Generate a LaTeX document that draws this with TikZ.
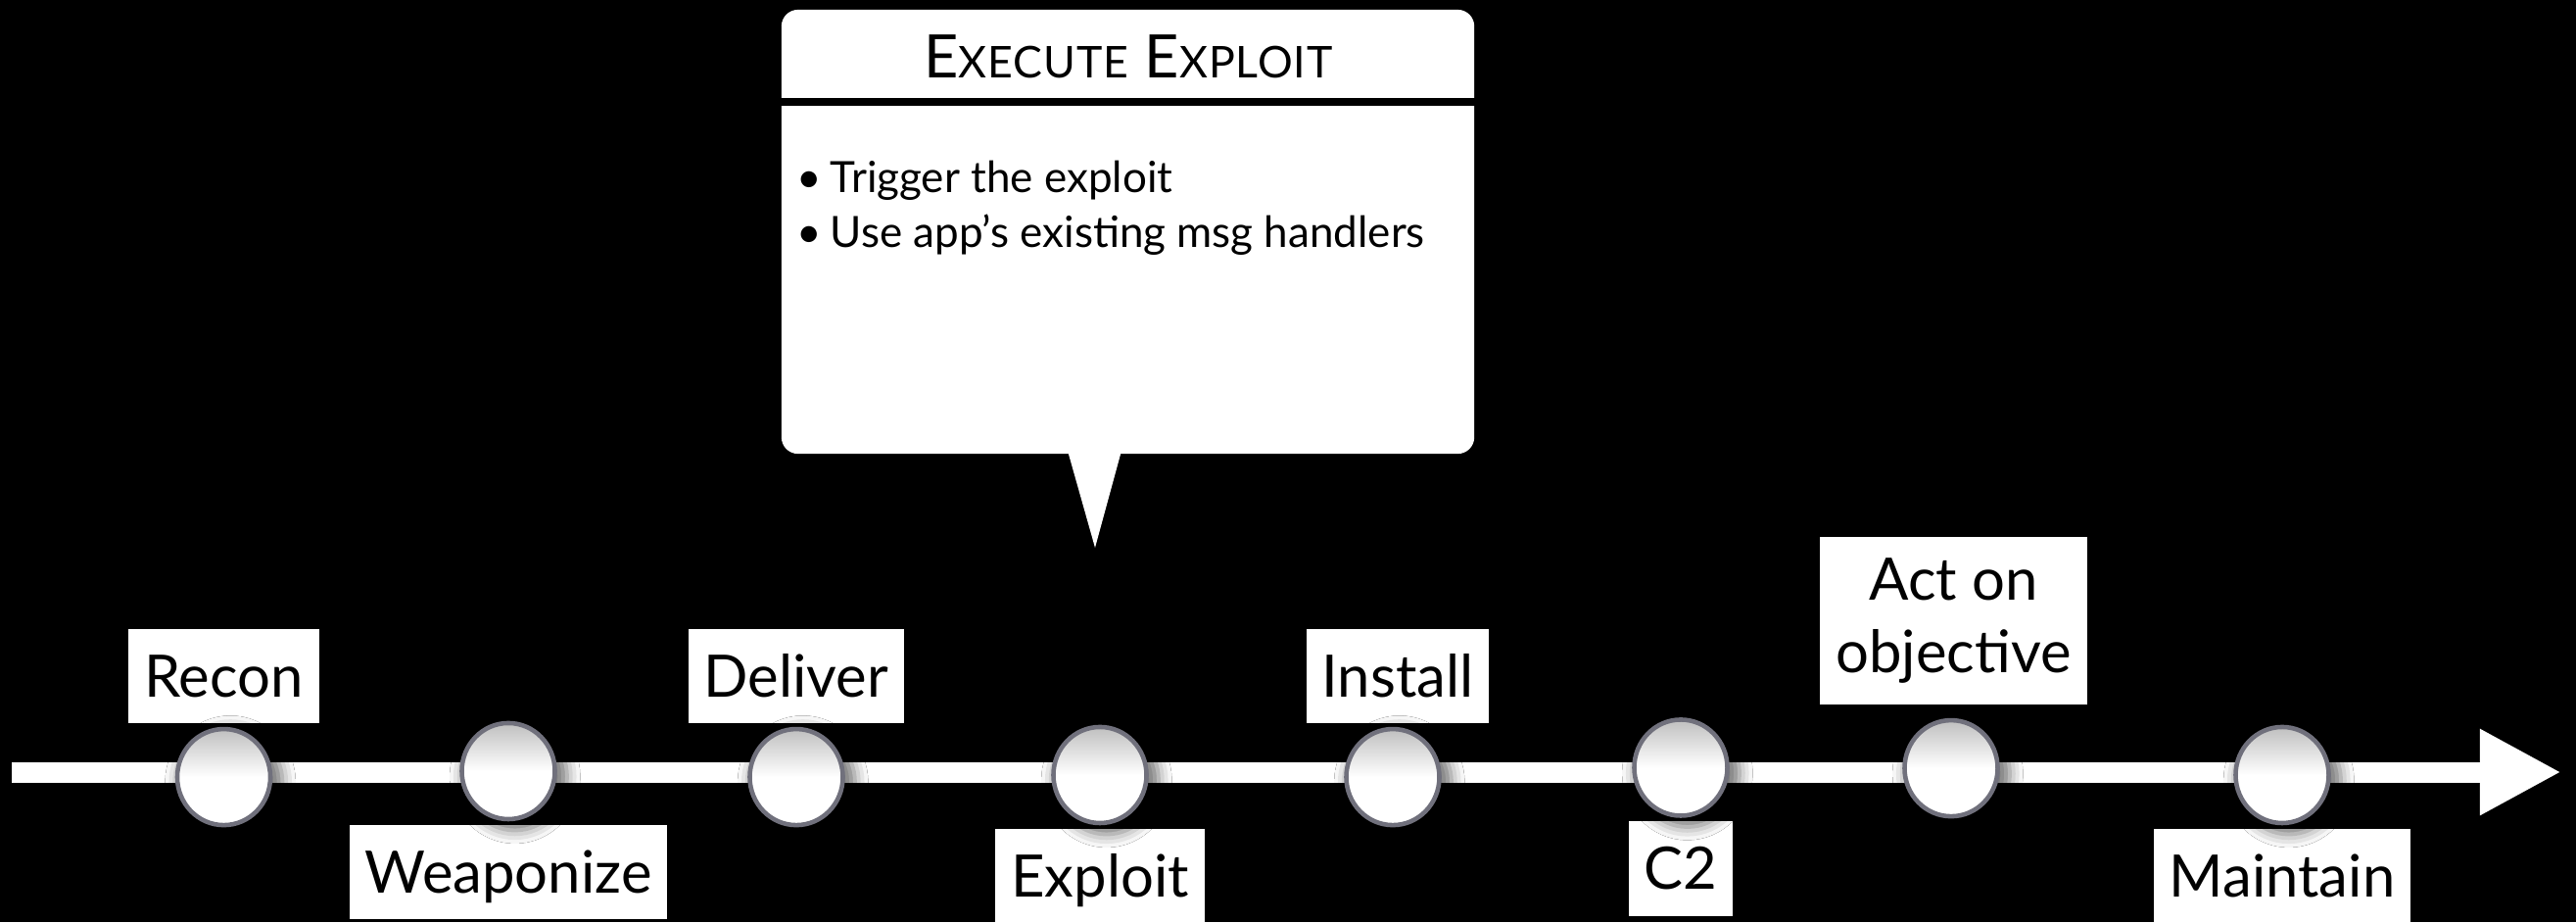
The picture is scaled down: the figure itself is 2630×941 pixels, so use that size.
\documentclass[tikz,border=0pt]{standalone}
\usepackage{fontspec}
\setmainfont{Lato}
\usepackage{xcolor}
\usepackage{tikz}
\usetikzlibrary{positioning}
\usetikzlibrary{shapes.geometric}
\usetikzlibrary{arrows.meta}
\usetikzlibrary{shadows.blur}
\definecolor{ringgray}{RGB}{112,112,124}
\newcommand{\capsc}[2]{{\fontsize{17.4}{20}\selectfont #1}{\fontsize{12.7}{15}\selectfont #2}}

\begin{document}
\begin{tikzpicture}[x=0.01cm,y=-0.01cm,
    stage/.style={ellipse,draw=ringgray,line width=1.3pt,minimum width=0.95cm,minimum height=0.98cm,inner sep=0pt,
      top color=black!25,bottom color=white,middle color=white,
      blur shadow={shadow xshift=0.06cm,shadow yshift=-0.05cm,shadow scale=1.12,shadow blur radius=0.12cm,shadow opacity=55}},
    tag/.style={fill=white,text=black,font=\fontsize{17}{21.3}\selectfont,inner xsep=0.16cm,inner ysep=0pt,
      minimum height=0.96cm,text height=12.2pt,text depth=0pt},
    item/.style={anchor=base west,inner sep=0pt,font=\fontsize{12.5}{15}\selectfont}]
    \fill[black] (0,0) rectangle (2630,941);
    \useasboundingbox (0,0) rectangle (2630,941);
    % time line
    \coordinate (tail) at (12,788);
    \coordinate (head) at (2615,788);
    \draw[white,line width=0.21cm,-{Triangle[length=0.83cm,width=0.82cm]}] (tail) -- (head);
    % phase names
    \node[tag] (recontag) at (228.5,690) {Recon};
    \node[tag] (weapontag) at (519,890) {Weaponize};
    \node[tag] (delivertag) at (813,690) {Deliver};
    \node[tag] (exploittag) at (1123,894) {Exploit};
    \node[tag] (installtag) at (1427,690) {Install};
    \node[tag] (ctwotag) at (1716,886.5) {C2};
    \node[tag,align=center,text height=,text depth=,minimum height=1.71cm] (acttag) at (1994.5,633.5) {Act on\\objective};
    \node[tag] (maintaintag) at (2330,894) {Maintain};
    % phase markers
    \node[stage,below=0.03cm of recontag] (recon) {};
    \node[stage,above=0.03cm of weapontag] (weapon) {};
    \node[stage,below=0.03cm of delivertag] (deliver) {};
    \node[stage,above=0.03cm of exploittag] (exploit) {};
    \node[stage,below=0.03cm of installtag,xshift=-0.05cm] (install) {};
    \node[stage,above=0.03cm of ctwotag] (ctwo) {};
    \node[stage,below=0.13cm of acttag,xshift=-0.025cm] (act) {};
    \node[stage,above=0.03cm of maintaintag] (maintain) {};
    % call-out
    \node[fill=white,rounded corners=0.17cm,minimum width=7.07cm,minimum height=4.53cm] (callout) at (1151.5,236.5) {};
    \coordinate (sep) at (0,104);
    \draw[black,line width=2pt] (callout.west |- sep) -- (callout.east |- sep);
    \coordinate (tip) at (1118,559);
    \fill[white] (1090,460) -- (tip) -- (1145,460) -- cycle;
    \node[anchor=base,inner sep=0pt,font=\fontsize{17.4}{20}\selectfont\addfontfeature{LetterSpace=2}] (title) at (1152,79) {\capsc{E}{XECUTE} \capsc{E}{XPLOIT}};
    \node[item] (item1) at (813,196) {\textbullet\hspace{0.2em}Trigger the exploit};
    \node[item] (item2) at (813,252) {\textbullet\hspace{0.2em}Use app’s existing msg handlers};
  \end{tikzpicture}
\end{document}
